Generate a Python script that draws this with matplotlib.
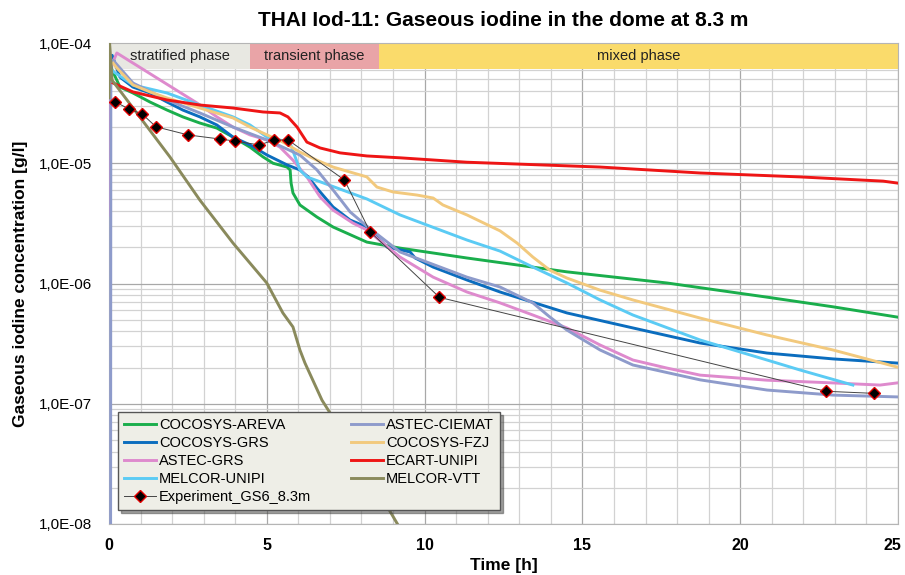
import matplotlib
matplotlib.use("Agg")
import math
import matplotlib.pyplot as plt
from matplotlib.ticker import LogLocator, NullFormatter, FuncFormatter, MultipleLocator
from matplotlib.patches import Rectangle

plt.rcParams['font.family'] = ['Liberation Sans', 'DejaVu Sans']

# --- data (time in h, concentration in g/l) ---
t_areva = [0.1, 0.35, 0.76, 1.30, 1.84, 2.34, 2.88, 3.42, 3.93, 4.47, 4.88, 5.20, 5.64, 5.74, 5.77,
           5.83, 6.05, 6.59, 7.10, 8.17, 9.22, 11.34, 14.51, 17.68, 20.85, 22.94, 24.97]
c_areva = [5.96e-5, 4.3e-5, 3.84e-5, 3.23e-5, 2.77e-5, 2.43e-5, 2.16e-5, 1.96e-5, 1.65e-5, 1.36e-5,
           1.13e-5, 1.0e-5, 9.3e-6, 8.8e-6, 6.85e-6, 5.66e-6, 4.5e-6, 3.57e-6, 2.95e-6, 2.21e-6,
           1.97e-6, 1.63e-6, 1.25e-6, 1.01e-6, 7.7e-7, 6.4e-7, 5.26e-7]

t_grs = [0.0, 0.1, 0.35, 0.76, 1.30, 1.84, 2.34, 2.88, 3.42, 3.93, 4.47, 5.01, 5.64, 6.05, 6.31, 6.59,
         7.10, 7.64, 8.17, 8.81, 9.54, 9.70, 10.27, 11.34, 12.39, 14.51, 16.60, 18.73, 20.85, 22.94, 24.97]
c_grs = [2.4e-5, 7.9e-5, 5.2e-5, 4.3e-5, 3.84e-5, 3.23e-5, 2.77e-5, 2.43e-5, 2.08e-5, 1.65e-5, 1.42e-5,
         1.17e-5, 9.7e-6, 8.8e-6, 7.7e-6, 6.2e-6, 4.33e-6, 3.37e-6, 2.95e-6, 2.01e-6, 1.83e-6, 1.63e-6,
         1.37e-6, 1.07e-6, 8.5e-7, 5.69e-7, 4.27e-7, 3.2e-7, 2.64e-7, 2.36e-7, 2.18e-7]

t_astec_grs = [0.0, 0.02, 0.25, 2.79, 3.42, 3.93, 4.47, 5.01, 5.42, 5.83, 6.27, 6.69, 7.10, 7.73, 8.17,
               8.68, 9.22, 10.27, 11.34, 12.39, 13.43, 14.51, 15.56, 16.60, 17.68, 18.73, 20.85, 22.94,
               24.43, 24.97]
c_astec_grs = [3.7e-6, 6.0e-5, 8.26e-5, 3.17e-5, 2.43e-5, 2.0e-5, 1.72e-5, 1.56e-5, 1.36e-5, 1.06e-5,
               7.7e-6, 5.24e-6, 4.08e-6, 3.18e-6, 2.79e-6, 2.17e-6, 1.66e-6, 1.13e-6, 8.5e-7, 6.9e-7,
               5.47e-7, 4.27e-7, 3.08e-7, 2.31e-7, 1.98e-7, 1.73e-7, 1.57e-7, 1.49e-7, 1.43e-7, 1.49e-7]

t_melcor_unipi = [0.05, 0.76, 1.84, 2.88, 3.93, 4.47, 5.01, 5.42, 5.74, 6.05, 6.27, 8.17, 9.22, 11.34,
                  12.39, 13.43, 14.51, 15.56, 16.60, 18.73, 20.85, 21.89, 23.57]
c_melcor_unipi = [6.0e-5, 4.48e-5, 3.84e-5, 3.05e-5, 2.43e-5, 2.08e-5, 1.65e-5, 1.56e-5, 1.47e-5, 8.8e-6,
                  7.7e-6, 5.05e-6, 3.72e-6, 2.3e-6, 1.86e-6, 1.37e-6, 1.01e-6, 7.3e-7, 5.47e-7, 3.39e-7,
                  2.31e-7, 1.91e-7, 1.43e-7]

t_ciemat = [0.05, 0.06, 0.13, 0.76, 1.84, 2.88, 3.93, 5.01, 5.51, 6.05, 6.59, 7.10, 7.64, 8.17, 9.22,
            11.34, 12.39, 13.43, 13.97, 14.51, 15.56, 16.60, 18.73, 20.85, 22.94, 24.97]
c_ciemat = [1e-9, 7.0e-5, 7.2e-5, 4.65e-5, 3.36e-5, 2.62e-5, 2.0e-5, 1.56e-5, 1.36e-5, 1.17e-5, 8.8e-6,
            6.0e-6, 3.94e-6, 3.0e-6, 1.83e-6, 1.13e-6, 9.35e-7, 6.9e-7, 5.26e-7, 4.1e-7, 2.8e-7, 2.1e-7,
            1.58e-7, 1.3e-7, 1.18e-7, 1.14e-7]

t_fzj = [0.13, 0.25, 0.76, 1.30, 1.84, 2.88, 3.93, 4.47, 5.01, 5.51, 6.05, 6.59, 7.10, 7.64, 8.17, 8.49,
         9.0, 9.76, 10.27, 10.58, 11.34, 12.39, 12.93, 13.43, 13.97, 14.51, 15.56, 16.60, 18.73, 20.85,
         22.94, 24.97]
c_fzj = [6.8e-5, 6.2e-5, 4.48e-5, 3.92e-5, 3.49e-5, 2.88e-5, 2.38e-5, 2.0e-5, 1.72e-5, 1.5e-5, 1.24e-5,
         1.06e-5, 9.3e-6, 8.45e-6, 7.7e-6, 6.34e-6, 5.77e-6, 5.44e-6, 5.14e-6, 4.5e-6, 3.72e-6, 2.74e-6,
         2.17e-6, 1.66e-6, 1.29e-6, 1.11e-6, 8.8e-7, 7.3e-7, 5.16e-7, 3.73e-7, 2.8e-7, 2.02e-7]

t_ecart = [0.13, 0.76, 1.84, 2.88, 3.93, 4.88, 5.42, 5.67, 5.96, 6.27, 6.69, 7.32, 8.17, 9.22, 11.34,
           15.56, 18.73, 21.89, 24.53, 24.97]
c_ecart = [4.65e-5, 3.92e-5, 3.36e-5, 3.05e-5, 2.88e-5, 2.67e-5, 2.62e-5, 2.43e-5, 2.0e-5, 1.5e-5,
           1.34e-5, 1.22e-5, 1.15e-5, 1.11e-5, 1.02e-5, 9.3e-6, 8.3e-6, 7.7e-6, 7.1e-6, 6.85e-6]

t_vtt = [0.0, 0.02, 0.1, 1.93, 2.88, 3.93, 5.0, 5.51, 5.83, 6.05, 6.21, 6.75, 7.95, 9.16]
c_vtt = [3.5e-5, 1.0e-4, 4.9e-5, 1.13e-5, 4.94e-6, 2.17e-6, 1.01e-6, 5.69e-7, 4.35e-7, 2.8e-7, 2.18e-7,
         1.07e-7, 3.4e-8, 9.8e-9]

t_exp = [0.19, 0.64, 1.05, 1.49, 2.51, 3.52, 3.99, 4.76, 5.24, 5.68, 7.46, 8.27, 10.47, 22.71, 24.24]
c_exp = [3.25e-5, 2.82e-5, 2.57e-5, 2.01e-5, 1.72e-5, 1.59e-5, 1.53e-5, 1.42e-5, 1.56e-5, 1.56e-5,
         7.26e-6, 2.7e-6, 7.67e-7, 1.27e-7, 1.22e-7]

x_ticks = [0, 5, 10, 15, 20, 25]

phase_names = ['stratified phase', 'transient phase', 'mixed phase']
phase_edges = [0, 4.47, 8.55, 25]
phase_colors = ['#E8E8E2', '#E9A4A7', '#FADB6B']

series = [
    ('COCOSYS-AREVA', t_areva, c_areva, '#1AAE4C'),
    ('COCOSYS-GRS', t_grs, c_grs, '#0B6DBE'),
    ('ASTEC-GRS', t_astec_grs, c_astec_grs, '#DE8ACD'),
    ('MELCOR-UNIPI', t_melcor_unipi, c_melcor_unipi, '#5BCBF4'),
    ('ASTEC-CIEMAT', t_ciemat, c_ciemat, '#8E9BCB'),
    ('COCOSYS-FZJ', t_fzj, c_fzj, '#F2C97D'),
    ('ECART-UNIPI', t_ecart, c_ecart, '#EE1515'),
    ('MELCOR-VTT', t_vtt, c_vtt, '#8A8A5C'),
]


def main():
    fig = plt.figure(figsize=(9.05, 5.75), dpi=100)
    ax = fig.add_axes([0.1204, 0.0887, 0.8719, 0.8365])

    ax.set_yscale('log')
    ax.set_xlim(0, 25)
    ax.set_ylim(1e-8, 1e-4)

    # phase bands at the top
    for i, name in enumerate(phase_names):
        x0, x1 = phase_edges[i], phase_edges[i + 1]
        ax.add_patch(Rectangle((x0, 0.946), x1 - x0, 0.054, transform=ax.get_xaxis_transform(),
                               facecolor=phase_colors[i], edgecolor='none', zorder=1.5))
        ax.text((x0 + x1) / 2, 0.973, name, transform=ax.get_xaxis_transform(),
                ha='center', va='center', fontsize=10.5, color='#222222', zorder=2)

    handles = {}
    for name, t, c, col in series:
        h, = ax.plot(t, c, color=col, lw=2.1, label=name, zorder=3)
        handles[name] = h
    he, = ax.plot(t_exp, c_exp, color='#444444', lw=0.7, marker='D', markersize=6.5,
                  markerfacecolor='black', markeredgecolor='#E00000', markeredgewidth=1.0,
                  label='Experiment_GS6_8.3m', zorder=4)

    # grid like excel
    ax.set_xticks(x_ticks)
    ax.set_xticklabels([str(v) for v in x_ticks[:-1]] + [''], fontweight='bold')
    ax.xaxis.set_minor_locator(MultipleLocator(1))
    ax.yaxis.set_major_locator(LogLocator(base=10, numticks=10))
    ax.yaxis.set_minor_locator(LogLocator(base=10, subs=range(2, 10), numticks=20))
    ax.yaxis.set_minor_formatter(NullFormatter())
    ax.yaxis.set_major_formatter(FuncFormatter(lambda v, p: '1,0E-%02d' % round(-math.log10(v))))
    ax.grid(which='major', color='#A8A8A8', lw=0.9, zorder=0)
    ax.grid(which='minor', color='#D2D2D2', lw=0.9, zorder=0)
    ax.set_axisbelow(True)
    ax.tick_params(which='both', length=0)
    ax.tick_params(axis='x', labelsize=11.5, pad=10)
    ax.tick_params(axis='y', labelsize=11, pad=12)
    # last x label nudged left so it stays inside the picture
    ax.annotate(str(x_ticks[-1]), xy=(x_ticks[-1], 0), xycoords=ax.get_xaxis_transform(),
                xytext=(-4, -10), textcoords='offset points', ha='center', va='top',
                fontsize=11.5, fontweight='bold')
    for s in ax.spines.values():
        s.set_color('#B5B5B5')

    ax.set_title('THAI Iod-11: Gaseous iodine in the dome at 8.3 m',
                 fontsize=15, fontweight='bold', pad=12)
    ax.set_xlabel('Time [h]', fontsize=12.5, fontweight='bold', labelpad=4)
    ax.set_ylabel('Gaseous iodine concentration [g/l]', fontsize=12.5, fontweight='bold', labelpad=8)

    order = ['COCOSYS-AREVA', 'COCOSYS-GRS', 'ASTEC-GRS', 'MELCOR-UNIPI',
             'ASTEC-CIEMAT', 'COCOSYS-FZJ', 'ECART-UNIPI', 'MELCOR-VTT']
    hl = [handles[n] for n in order[:4]] + [he] + [handles[n] for n in order[4:]]
    leg = ax.legend(hl, [h.get_label() for h in hl], ncol=2, loc='lower left',
                    bbox_to_anchor=(0.0114, 0.029, 0.484, 0.202), mode='expand',
                    fontsize=10.5, frameon=True, fancybox=False, shadow=True,
                    handlelength=2.2, handletextpad=0.2, labelspacing=0.28,
                    borderaxespad=0, columnspacing=1.0, borderpad=0.4)
    leg.get_frame().set_facecolor('#EEEEE7')
    leg.get_frame().set_edgecolor('#555555')
    leg.get_frame().set_alpha(1)
    leg.set_zorder(5)

    fig.savefig('out.png', dpi=100)


main()
